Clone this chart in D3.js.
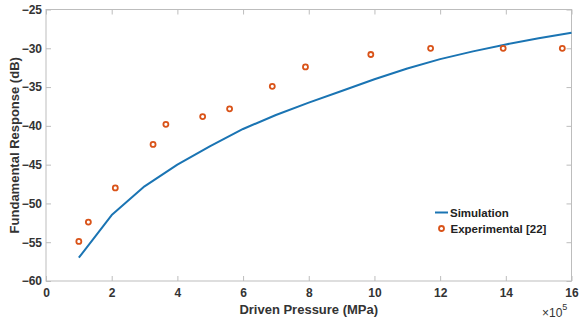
<!DOCTYPE html>
<html>
<head>
<meta charset="utf-8">
<script src="https://cdn.jsdelivr.net/npm/d3@7"></script>
<style>
  html, body { margin: 0; padding: 0; background: #fff; }
  svg { display: block; font-family: "Liberation Sans", Arial, sans-serif; }
</style>
</head>
<body>
<svg id="chart" width="580" height="321"></svg>
<script>
// ---- data (x in units of 10^5) ----
const simX = [1, 2, 3, 4, 5, 6, 7, 8, 9, 10, 11, 12, 13, 14, 15, 16];
const simY = [-57.0, -51.5, -47.8, -45.0, -42.6, -40.4, -38.6, -37.0, -35.5, -34.0, -32.6, -31.4, -30.4, -29.5, -28.7, -28.0];
const expX = [1.0, 1.29, 2.11, 3.26, 3.65, 4.77, 5.59, 6.89, 7.90, 9.89, 11.71, 13.92, 15.72];
const expY = [-54.9, -52.4, -48.0, -42.4, -39.8, -38.8, -37.8, -34.9, -32.4, -30.8, -30.0, -30.0, -30.0];
const xTicks = [0, 2, 4, 6, 8, 10, 12, 14, 16];
const yTicks = [-60, -55, -50, -45, -40, -35, -30, -25];
const seriesNames = ["Simulation", "Experimental [22]"];
const xLabel = "Driven Pressure (MPa)";
const yLabel = "Fundamental Response (dB)";

const svg = d3.select("#chart");
const L = 46, R = 571.5, T = 9.5, B = 281;
const x = d3.scaleLinear().domain([0, 16]).range([L, R]);
const y = d3.scaleLinear().domain([-60, -25]).range([B, T]);

const axisColor = "#bdbdbd";
const textColor = "#333333";
const blue = "#1a74b3";
const orange = "#d95319";

// box
svg.append("rect").attr("x", L).attr("y", T).attr("width", R - L).attr("height", B - T)
  .attr("fill", "none").attr("stroke", axisColor).attr("stroke-width", 1);

function styleAxis(g) {
  g.select(".domain").remove();
  g.selectAll(".tick line").attr("stroke", axisColor);
  g.selectAll(".tick text").attr("fill", textColor).attr("font-size", 12).attr("font-weight", "bold")
    .attr("font-family", "'Liberation Sans', Arial, sans-serif");
}

// bottom axis: ticks inward
svg.append("g").attr("transform", `translate(0,${B})`)
  .call(d3.axisBottom(x).tickValues(xTicks).tickSizeInner(-5).tickSizeOuter(0).tickPadding(7.5).tickFormat(d3.format("d")))
  .call(styleAxis);
// top ticks
svg.append("g").attr("transform", `translate(0,${T})`)
  .call(d3.axisTop(x).tickValues(xTicks).tickSizeInner(-5).tickSizeOuter(0).tickFormat(""))
  .call(styleAxis);
// left axis
svg.append("g").attr("transform", `translate(${L},0)`)
  .call(d3.axisLeft(y).tickValues(yTicks).tickSizeInner(-5).tickSizeOuter(0).tickPadding(4).tickFormat(d3.format("d")))
  .call(styleAxis);
// right ticks
svg.append("g").attr("transform", `translate(${R},0)`)
  .call(d3.axisRight(y).tickValues(yTicks).tickSizeInner(-5).tickSizeOuter(0).tickFormat(""))
  .call(styleAxis);

// simulation line
const line = d3.line().x(d => x(d[0])).y(d => y(d[1]));
svg.append("path").datum(simX.map((v, i) => [v, simY[i]]))
  .attr("d", line).attr("fill", "none").attr("stroke", blue).attr("stroke-width", 2)
  .attr("stroke-linejoin", "round");

// experimental markers
svg.append("g").selectAll("circle").data(expX.map((v, i) => [v, expY[i]])).join("circle")
  .attr("cx", d => x(d[0])).attr("cy", d => y(d[1])).attr("r", 2.5)
  .attr("fill", "#fff").attr("stroke", orange).attr("stroke-width", 1.8);

// axis labels
svg.append("text").attr("x", (L + R) / 2).attr("y", 314).attr("text-anchor", "middle")
  .attr("font-size", 13).attr("font-weight", "bold").attr("fill", textColor).text(xLabel);
svg.append("text").attr("transform", `translate(19,${(T + B) / 2}) rotate(-90)`).attr("text-anchor", "middle")
  .attr("font-size", 13).attr("font-weight", "bold").attr("fill", textColor).text(yLabel);

// exponent
const ex = svg.append("text").attr("x", 542).attr("y", 317).attr("font-size", 12).attr("fill", textColor);
ex.append("tspan").text("\u00d710");
ex.append("tspan").attr("dy", -7).attr("font-size", 9).text("5");

// legend
const lg = svg.append("g");
lg.append("line").attr("x1", 435).attr("x2", 448).attr("y1", 212.5).attr("y2", 212.5)
  .attr("stroke", blue).attr("stroke-width", 2);
lg.append("text").attr("x", 450).attr("y", 216.5).attr("font-size", 11.5).attr("font-weight", "bold")
  .attr("fill", "#222").text(seriesNames[0]);
lg.append("circle").attr("cx", 441.5).attr("cy", 228.5).attr("r", 2.5)
  .attr("fill", "#fff").attr("stroke", orange).attr("stroke-width", 1.8);
lg.append("text").attr("x", 450.5).attr("y", 232.5).attr("font-size", 11.5).attr("font-weight", "bold")
  .attr("fill", "#222").text(seriesNames[1]);
</script>
</body>
</html>
